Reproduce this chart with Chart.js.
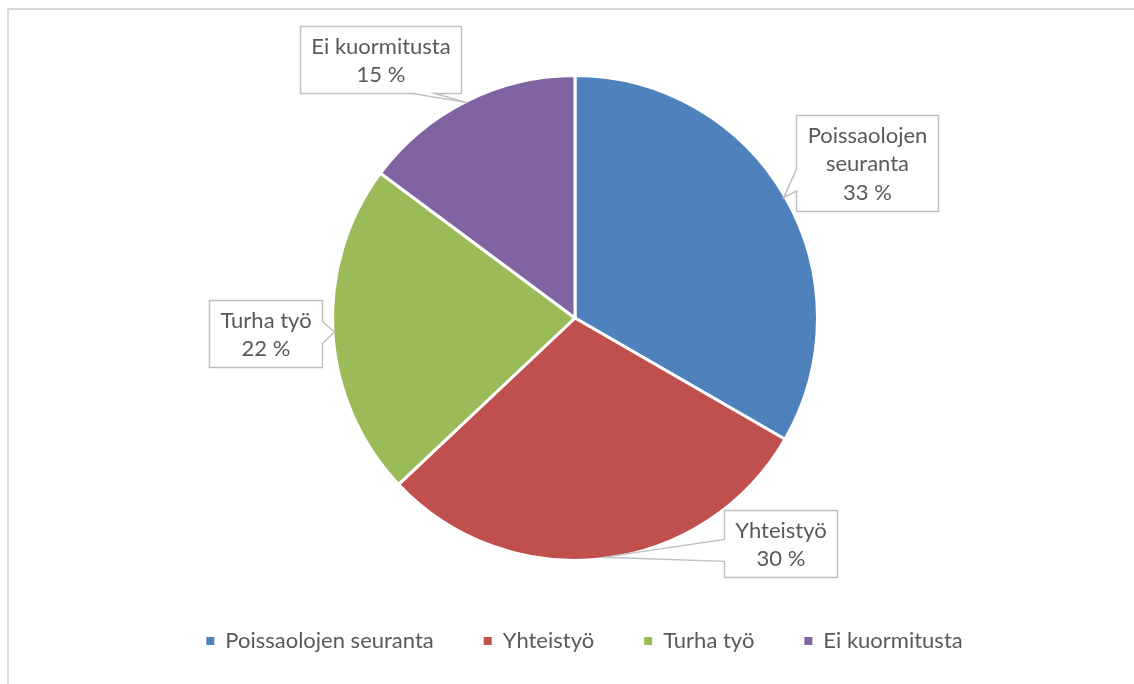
<!DOCTYPE html>
<html lang="fi">
<head>
  <meta charset="UTF-8">
  <title>Kuormitustekijät</title>
  <script src="https://cdn.jsdelivr.net/npm/chart.js"></script>
  <style>
    html, body { margin: 0; padding: 0; background: #fff; }
    .wrap { position: relative; width: 1134px; height: 684px; overflow: hidden; }
    .frame {
      position: absolute; left: 7px; top: 8px; right: -10px; bottom: -10px;
      border-left: 2px solid #d9d9d9; border-top: 2px solid #d9d9d9;
    }
    canvas { position: absolute; left: 0; top: 0; }
  </style>
</head>
<body>
  <div class="wrap">
    <div class="frame"></div>
    <canvas id="pie" width="1134" height="684"></canvas>
  </div>

  <script>
    // vastaukset (kpl) - kuvan prosentit 33/30/22/15
    const categories = ['Poissaolojen seuranta', 'Yhteistyö', 'Turha työ', 'Ei kuormitusta'];
    const values = [9, 8, 6, 4];
    const colors = ['#4F81BD', '#C0504D', '#9BBB59', '#8064A2'];

    const FONT = 'Lato, "Noto Sans", sans-serif';
    const TEXT = '#595959';

    // selitelaatikot: siirtymä kaaren reunasta (px)
    const calloutOffsets = [[83, -35], [178, -14], [-69, 1], [-86, -43]];

    function wrapText(ctx, text, maxW) {
      const words = text.split(' ');
      const lines = [];
      let cur = '';
      words.forEach(w => {
        const t = cur ? cur + ' ' + w : w;
        if (cur && ctx.measureText(t).width > maxW) {
          lines.push(cur);
          cur = w;
        } else {
          cur = t;
        }
      });
      if (cur) lines.push(cur);
      return lines;
    }

    const calloutPlugin = {
      id: 'callouts',
      afterDatasetsDraw(chart) {
        const ctx = chart.ctx;
        const meta = chart.getDatasetMeta(0);
        const data = chart.data.datasets[0].data;
        const total = data.reduce((a, b) => a + b, 0);
        const lineH = 28.5, padX = 11, padY = 5, tailHalf = 11;

        ctx.save();
        ctx.font = '22px ' + FONT;
        meta.data.forEach((arc, i) => {
          const p = arc.getProps(['x', 'y', 'startAngle', 'endAngle', 'outerRadius'], true);
          const mid = (p.startAngle + p.endAngle) / 2;
          const r = p.outerRadius - 1.5;
          const ax = p.x + Math.cos(mid) * r;
          const ay = p.y + Math.sin(mid) * r;

          const lines = wrapText(ctx, chart.data.labels[i], 150);
          lines.push(Math.round(data[i] / total * 100) + ' %');
          const tw = Math.max(...lines.map(l => ctx.measureText(l).width));
          const w = Math.round(tw + padX * 2);
          const h = Math.round(lines.length * lineH + padY * 2);
          const cx = ax + calloutOffsets[i][0];
          const cy = ay + calloutOffsets[i][1];
          const L = Math.round(cx - w / 2) + 0.5, T = Math.round(cy - h / 2) + 0.5;
          const R = L + w, B = T + h;

          // mille reunalle häntä tulee
          const ex = ax < L ? L - ax : (ax > R ? ax - R : 0);
          const ey = ay < T ? T - ay : (ay > B ? ay - B : 0);
          let side;
          if (ex >= ey) side = ax < L ? 'left' : 'right';
          else side = ay < T ? 'top' : 'bottom';

          const clamp = (v, a, b) => Math.max(a, Math.min(b, v));
          ctx.beginPath();
          ctx.moveTo(L, T);
          if (side === 'top') {
            const m = clamp((cx + ax) / 2, L + tailHalf, R - tailHalf);
            ctx.lineTo(m - tailHalf, T); ctx.lineTo(ax, ay); ctx.lineTo(m + tailHalf, T);
          }
          ctx.lineTo(R, T);
          if (side === 'right') {
            const m = clamp((cy + ay) / 2, T + tailHalf, B - tailHalf);
            ctx.lineTo(R, m - tailHalf); ctx.lineTo(ax, ay); ctx.lineTo(R, m + tailHalf);
          }
          ctx.lineTo(R, B);
          if (side === 'bottom') {
            const m = clamp((cx + ax) / 2, L + tailHalf, R - tailHalf);
            ctx.lineTo(m + tailHalf, B); ctx.lineTo(ax, ay); ctx.lineTo(m - tailHalf, B);
          }
          ctx.lineTo(L, B);
          if (side === 'left') {
            const m = clamp((cy + ay) / 2, T + tailHalf, B - tailHalf);
            ctx.lineTo(L, m + tailHalf); ctx.lineTo(ax, ay); ctx.lineTo(L, m - tailHalf);
          }
          ctx.closePath();
          ctx.fillStyle = '#fff';
          ctx.fill();
          ctx.strokeStyle = '#bfbfbf';
          ctx.lineWidth = 1.5;
          ctx.stroke();

          ctx.fillStyle = TEXT;
          ctx.textAlign = 'center';
          ctx.textBaseline = 'middle';
          lines.forEach((l, k) => {
            ctx.fillText(l, (L + R) / 2, T + padY + lineH * (k + 0.5) + 1);
          });
        });
        ctx.restore();
      }
    };

    const legendPad = 50;

    new Chart(document.getElementById('pie'), {
      type: 'pie',
      data: {
        labels: categories,
        datasets: [{
          data: values,
          backgroundColor: colors,
          borderColor: '#fff',
          borderWidth: 3,
          radius: 242.5
        }]
      },
      options: {
        responsive: false,
        animation: false,
        layout: { padding: { top: 6 + legendPad, bottom: 22, left: 35, right: 0 } },
        plugins: {
          tooltip: { enabled: false },
          // tyhjä otsikko oikealla vain siirtää piirakkaa vasemmalle
          title: { display: true, text: '', position: 'right', fullSize: false, font: { size: 1, lineHeight: 1 }, padding: 9 },
          legend: {
            position: 'bottom',
            labels: {
              boxWidth: 8,
              boxHeight: 8,
              padding: legendPad,
              color: TEXT,
              font: { family: FONT, size: 22 },
              generateLabels: (chart) =>
                Chart.overrides.pie.plugins.legend.labels.generateLabels(chart)
                  .map(l => ({ ...l, strokeStyle: l.fillStyle, lineWidth: 0 }))
            }
          }
        }
      },
      plugins: [calloutPlugin]
    });
  </script>
</body>
</html>
